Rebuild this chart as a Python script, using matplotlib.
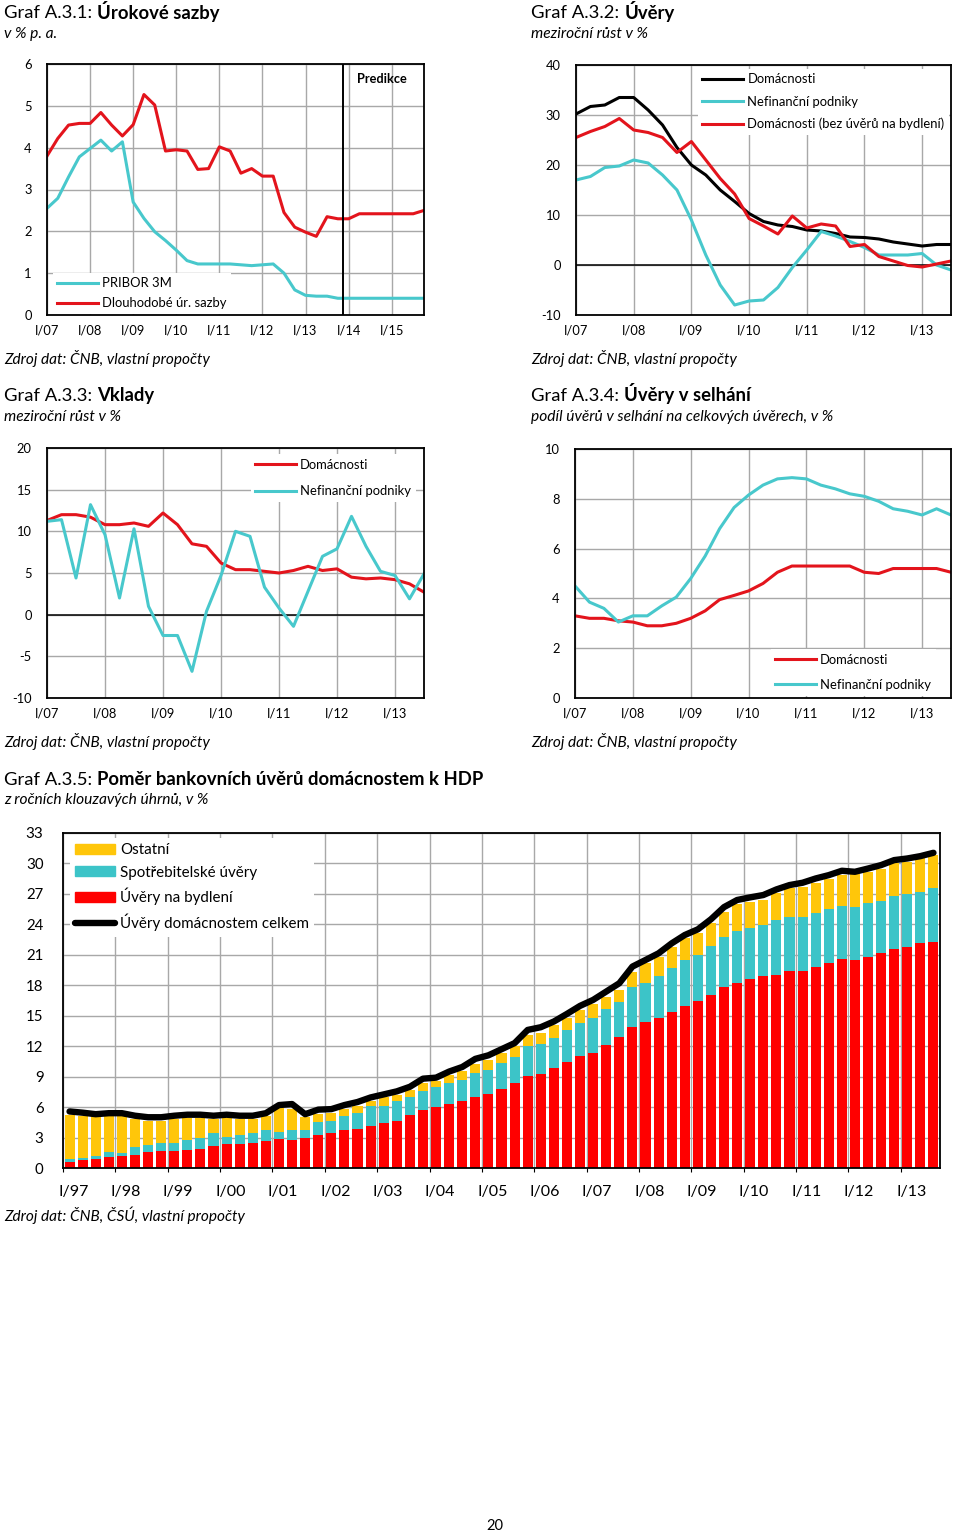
import numpy as np
import matplotlib
matplotlib.use('Agg')
import matplotlib.pyplot as plt
from matplotlib.patches import Patch
from matplotlib.lines import Line2D

plt.rcParams['font.family'] = ['Lato', 'DejaVu Sans']
plt.rcParams['axes.unicode_minus'] = False

RED = '#e3141c'
CYAN = '#48c8cc'
GRID = '#a8a8a8'
BAR_RED = '#ff0000'
BAR_CYAN = '#3cc4c8'
BAR_YELLOW = '#ffc60a'

# ---- Graf A.3.1: urokove sazby (ctvrtletne I/07 - IV/15)
labels_31 = ['I/07', 'I/08', 'I/09', 'I/10', 'I/11', 'I/12', 'I/13', 'I/14', 'I/15']
pribor = [2.55, 2.79, 3.3, 3.78, 3.98, 4.18, 3.92, 4.14, 2.7, 2.31, 1.99, 1.78,
          1.55, 1.3, 1.22, 1.22, 1.22, 1.22, 1.2, 1.18, 1.2, 1.22, 1.0, 0.6,
          0.47, 0.45, 0.45, 0.4, 0.4, 0.4, 0.4, 0.4, 0.4, 0.4, 0.4, 0.4]
dlouhodobe = [3.8, 4.22, 4.54, 4.58, 4.58, 4.84, 4.54, 4.28, 4.55, 5.27, 5.02, 3.92,
              3.95, 3.92, 3.48, 3.5, 4.02, 3.92, 3.39, 3.5, 3.32, 3.32, 2.45, 2.1,
              1.98, 1.88, 2.35, 2.3, 2.3, 2.42, 2.42, 2.42, 2.42, 2.42, 2.42, 2.5]
predikce_od = 27.5

# ---- Graf A.3.2: uvery (I/07 - III/13)
labels_07 = ['I/07', 'I/08', 'I/09', 'I/10', 'I/11', 'I/12', 'I/13']
uv_domacnosti = [30.2, 31.7, 32, 33.5, 33.5, 31, 28, 23.5, 20, 18, 15, 12.7, 10.3, 8.7,
                 8, 7.7, 7, 6.8, 6.3, 5.6, 5.5, 5.2, 4.6, 4.2, 3.8, 4.1, 4.1]
uv_podniky = [17, 17.7, 19.5, 19.8, 21, 20.4, 18, 15, 9, 2, -4, -8, -7.2, -7,
              -4.5, -0.5, 3, 6.7, 5.8, 4.7, 3.5, 2, 2, 2, 2.3, 0, -1]
uv_bez_bydleni = [25.5, 26.7, 27.7, 29.3, 27, 26.5, 25.5, 22.5, 24.7, 21, 17.3, 14.2, 9.3, 7.8,
                  6.2, 9.8, 7.4, 8.2, 7.8, 3.7, 4.1, 1.7, 0.8, -0.1, -0.4, 0.2, 0.8]

# ---- Graf A.3.3: vklady
vk_domacnosti = [11.3, 12, 12, 11.7, 10.8, 10.8, 11, 10.6, 12.2, 10.8, 8.5, 8.2, 6.2, 5.4,
                 5.4, 5.2, 5, 5.3, 5.8, 5.3, 5.5, 4.5, 4.3, 4.4, 4.2, 3.7, 2.7]
vk_podniky = [11.2, 11.4, 4.4, 13.2, 9.6, 2, 10.3, 1, -2.5, -2.5, -6.8, 0.4, 4.7, 10,
              9.4, 3.3, 0.8, -1.4, 2.8, 7, 7.9, 11.8, 8.2, 5.2, 4.7, 1.9, 4.9]

# ---- Graf A.3.4: uvery v selhani
sel_domacnosti = [3.3, 3.2, 3.2, 3.1, 3.05, 2.9, 2.9, 3.0, 3.2, 3.5, 3.95, 4.12, 4.3, 4.6,
                  5.05, 5.3, 5.3, 5.3, 5.3, 5.3, 5.05, 5.0, 5.2, 5.2, 5.2, 5.2, 5.05]
sel_podniky = [4.5, 3.85, 3.6, 3.05, 3.3, 3.3, 3.7, 4.05, 4.8, 5.7, 6.8, 7.65, 8.15, 8.55,
               8.8, 8.85, 8.8, 8.55, 8.4, 8.2, 8.1, 7.9, 7.6, 7.5, 7.35, 7.6, 7.35]

# ---- Graf A.3.5: pomer uveru domacnostem k HDP (I/97 - III/13)
labels_97 = ['I/97', 'I/98', 'I/99', 'I/00', 'I/01', 'I/02', 'I/03', 'I/04', 'I/05',
             'I/06', 'I/07', 'I/08', 'I/09', 'I/10', 'I/11', 'I/12', 'I/13']
bydleni = [0.6, 0.75, 0.9, 1.05, 1.2, 1.3, 1.55, 1.65, 1.65, 1.8, 1.9, 2.2, 2.4, 2.4,
           2.5, 2.7, 2.85, 2.8, 3.0, 3.3, 3.45, 3.7, 3.87, 4.16, 4.43, 4.6, 5.21, 5.67,
           5.97, 6.3, 6.56, 6.98, 7.31, 7.77, 8.36, 9.08, 9.28, 9.84, 10.43, 11.05, 11.31,
           12.1, 12.89, 13.93, 14.36, 14.82, 15.41, 15.97, 16.46, 17.05, 17.8, 18.26, 18.59,
           18.92, 19.02, 19.44, 19.44, 19.77, 20.23, 20.56, 20.49, 20.82, 21.15, 21.54,
           21.74, 22.13, 22.3]
spotrebitelske = [0.3, 0.25, 0.25, 0.5, 0.3, 0.75, 0.7, 0.85, 0.85, 1.0, 1.05, 1.25, 0.7,
                  0.9, 0.95, 1.0, 0.7, 0.9, 0.77, 1.2, 1.2, 1.38, 1.53, 1.91, 1.7, 2.02,
                  1.77, 1.93, 1.96, 2.06, 2.13, 2.42, 2.39, 2.56, 2.56, 2.89, 2.95, 3.01,
                  3.17, 3.28, 3.44, 3.6, 3.5, 3.87, 3.84, 4.1, 4.33, 4.52, 4.52, 4.8, 4.99,
                  5.12, 5.08, 5.01, 5.41, 5.25, 5.25, 5.38, 5.25, 5.24, 5.25, 5.25, 5.18,
                  5.25, 5.21, 5.08, 5.24]
ostatni = [4.35, 4.15, 3.95, 3.6, 3.6, 2.75, 2.4, 2.15, 2.3, 2.1, 1.95, 1.35, 1.8, 1.5,
           1.35, 1.45, 2.35, 2.1, 1.23, 0.85, 0.8, 0.72, 0.7, 0.53, 0.82, 0.53, 0.72,
           0.75, 0.67, 0.79, 0.86, 0.88, 0.96, 0.97, 1.05, 1.13, 1.11, 1.25, 1.15, 1.24,
           1.41, 1.19, 1.15, 1.54, 1.96, 1.9, 2.06, 2.13, 2.2, 2.25, 2.46, 2.62, 2.56,
           2.46, 2.62, 2.85, 3.01, 2.95, 2.95, 3.05, 3.21, 3.11, 3.17, 3.21, 3.21, 3.28,
           3.28]
celkem = [5.57, 5.45, 5.3, 5.4, 5.4, 5.15, 5.0, 5.0, 5.15, 5.25, 5.25, 5.15, 5.25, 5.15,
          5.15, 5.4, 6.2, 6.3, 5.3, 5.75, 5.8, 6.2, 6.5, 6.95, 7.25, 7.55, 8.0, 8.8, 8.9,
          9.5, 9.95, 10.75, 11.1, 11.7, 12.3, 13.6, 13.87, 14.43, 15.18, 15.97, 16.56,
          17.38, 18.2, 19.84, 20.49, 21.15, 22.13, 22.95, 23.51, 24.5, 25.7, 26.4, 26.66,
          26.89, 27.44, 27.87, 28.1, 28.52, 28.85, 29.28, 29.18, 29.5, 29.84, 30.33,
          30.49, 30.72, 31.05]

W, H = 960, 1533
fig = plt.figure(figsize=(W / 100, H / 100), dpi=100)
renderer = fig.canvas.get_renderer()


def px(x0, y0, x1, y1):
    # pixel box -> figure fraction rect
    return [x0 / W, 1 - y1 / H, (x1 - x0) / W, (y1 - y0) / H]


def heading(x, y, num, name, sub, ysub):
    t = fig.text(x / W, 1 - y / H, 'Graf ' + num + ':', fontsize=13.3, va='baseline')
    bb = t.get_window_extent(renderer=renderer)
    fig.text((bb.x1 + 5) / W, 1 - y / H, name, fontsize=13.3, fontweight='bold', va='baseline')
    fig.text(x / W, 1 - ysub / H, sub, fontsize=11.2, style='italic', va='baseline')


def source(x, y, s='Zdroj dat: ČNB, vlastní propočty'):
    fig.text(x / W, 1 - y / H, s, fontsize=11.1, style='italic', va='baseline')


def line_axes(rect, ylim, step, nq, labels):
    ax = fig.add_axes(rect)
    ax.set_xlim(0, nq)
    ax.set_ylim(*ylim)
    ax.set_yticks(np.arange(ylim[0], ylim[1] + step / 2, step))
    ax.set_xticks(np.arange(0, 4 * len(labels), 4))
    ax.set_xticklabels(labels)
    ax.grid(color=GRID, lw=1.0)
    ax.set_axisbelow(True)
    ax.tick_params(length=0, labelsize=9.3)
    ax.tick_params(axis='y', pad=11)
    ax.tick_params(axis='x', pad=7)
    for s in ax.spines.values():
        s.set_linewidth(1.3)
    return ax


def legend(ax, loc, anchor, size=9.4, hl=3.1, sp=0.75):
    lg = ax.legend(loc=loc, bbox_to_anchor=anchor, fontsize=size, handlelength=hl,
                   handletextpad=0.35, labelspacing=sp, borderpad=0.35, borderaxespad=0,
                   frameon=True, fancybox=False, framealpha=1)
    lg.get_frame().set_edgecolor('none')
    lg.get_frame().set_facecolor('white')
    return lg


LW = 2.2

# A.3.1
heading(4, 18.5, 'A.3.1', 'Úrokové sazby', 'v % p. a.', 38)
ax1 = line_axes(px(47, 64, 424, 315), (0, 6), 1, 35, labels_31)
q = np.arange(len(pribor))
ax1.plot(q, pribor, color=CYAN, lw=LW, label='PRIBOR 3M')
ax1.plot(q, dlouhodobe, color=RED, lw=LW, label='Dlouhodobé úr. sazby')
ax1.axvline(predikce_od, color='black', lw=1.4)
ax1.text(0.953, 0.94, 'Predikce', transform=ax1.transAxes, ha='right', va='center',
         fontsize=9.2, fontweight='bold')
legend(ax1, 'lower left', (0.015, 0.005), sp=0.6)
source(4, 364)

# A.3.2
heading(531, 18.5, 'A.3.2', 'Úvěry', 'meziroční růst v %', 38)
ax2 = line_axes(px(576, 65, 951, 315), (-10, 40), 10, 26, labels_07)
q = np.arange(len(uv_domacnosti))
ax2.axhline(0, color='black', lw=1.1)
ax2.plot(q, uv_domacnosti, color='black', lw=LW, label='Domácnosti')
ax2.plot(q, uv_podniky, color=CYAN, lw=LW, label='Nefinanční podniky')
ax2.plot(q, uv_bez_bydleni, color=RED, lw=LW, label='Domácnosti (bez úvěrů na bydlení)')
legend(ax2, 'upper right', (0.995, 0.985), sp=0.78)
source(531, 364)

# A.3.3
heading(4, 401, 'A.3.3', 'Vklady', 'meziroční růst v %', 421)
ax3 = line_axes(px(47, 448, 424, 698), (-10, 20), 5, 26, labels_07)
q = np.arange(len(vk_domacnosti))
ax3.axhline(0, color='black', lw=1.1)
ax3.plot(q, vk_domacnosti, color=RED, lw=LW, label='Domácnosti')
ax3.plot(q, vk_podniky, color=CYAN, lw=LW, label='Nefinanční podniky')
legend(ax3, 'upper left', (0.54, 0.975), sp=1.1)
source(4, 747)

# A.3.4
heading(531, 401, 'A.3.4', 'Úvěry v selhání',
        'podíl úvěrů v selhání na celkových úvěrech, v %', 421)
ax4 = line_axes(px(575, 449, 951, 698), (0, 10), 2, 26, labels_07)
q = np.arange(len(sel_domacnosti))
ax4.plot(q, sel_domacnosti, color=RED, lw=LW, label='Domácnosti')
ax4.plot(q, sel_podniky, color=CYAN, lw=LW, label='Nefinanční podniky')
legend(ax4, 'lower left', (0.52, 0.01), sp=1.0)
source(531, 747)

# A.3.5
heading(4, 785, 'A.3.5', 'Poměr bankovních úvěrů domácnostem k HDP',
        'z ročních klouzavých úhrnů, v %', 804)
ax5 = fig.add_axes(px(63, 833, 940, 1168))
x = np.arange(len(bydleni))
byd = np.array(bydleni)
spo = np.array(spotrebitelske)
ost = np.array(ostatni)
ax5.bar(x, byd, width=0.77, color=BAR_RED, zorder=2)
ax5.bar(x, spo, bottom=byd, width=0.77, color=BAR_CYAN, zorder=2)
ax5.bar(x, ost, bottom=byd + spo, width=0.77, color=BAR_YELLOW, zorder=2)
ax5.plot(x, celkem, color='black', lw=4.6, solid_capstyle='round',
         solid_joinstyle='round', zorder=3)
ax5.set_xlim(-0.5, len(bydleni) - 0.5)
ax5.set_ylim(0, 33)
ax5.set_yticks(np.arange(0, 34, 3))
ax5.set_xticks(np.arange(-0.5, len(bydleni), 4))
ax5.set_xticklabels([])
ax5.set_xticks(np.arange(0, 4 * len(labels_97), 4) + 0.3, minor=True)
ax5.set_xticklabels(labels_97, minor=True)
ax5.grid(color=GRID, lw=1.0)
ax5.set_axisbelow(True)
ax5.tick_params(axis='x', which='major', length=3, direction='out')
ax5.tick_params(axis='x', which='minor', length=0, labelsize=11.5, pad=12)
ax5.tick_params(axis='y', length=0, labelsize=10.8, pad=14)
for s in ax5.spines.values():
    s.set_linewidth(1.3)
handles = [Patch(color=BAR_YELLOW), Patch(color=BAR_CYAN), Patch(color=BAR_RED),
           Line2D([], [], color='black', lw=4.6, solid_capstyle='round')]
names = ['Ostatní', 'Spotřebitelské úvěry', 'Úvěry na bydlení', 'Úvěry domácnostem celkem']
lg = ax5.legend(handles, names, loc='upper left', bbox_to_anchor=(0.008, 0.985),
                fontsize=10.9, handlelength=2.6, handleheight=0.65, handletextpad=0.35,
                labelspacing=0.55, borderpad=0.35, borderaxespad=0, frameon=True,
                fancybox=False, framealpha=1)
lg.get_frame().set_edgecolor('none')
lg.get_frame().set_facecolor('white')
source(4, 1221, 'Zdroj dat: ČNB, ČSÚ, vlastní propočty')

fig.text(495 / W, 1 - 1530 / H, '20', fontsize=10.5, ha='center', va='baseline')

fig.savefig('out.png', dpi=100)
